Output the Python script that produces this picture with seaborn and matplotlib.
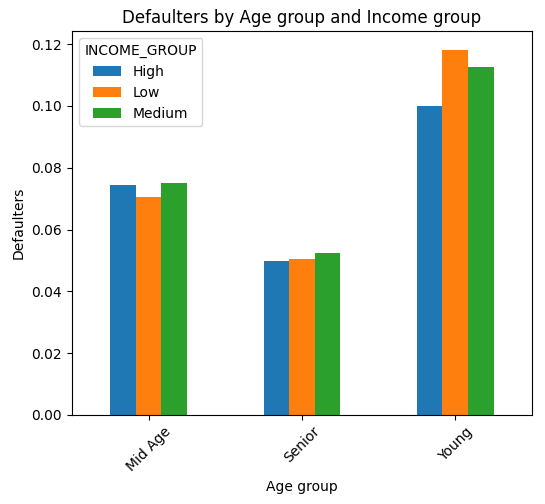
import matplotlib
matplotlib.use("Agg")
import matplotlib.pyplot as plt
import seaborn as sns
import pandas as pd

age_groups = ["Mid Age", "Senior", "Young"]
income_groups = ["High", "Low", "Medium"]
high = [0.0743, 0.0497, 0.1000]
low = [0.0704, 0.0503, 0.1180]
medium = [0.0749, 0.0523, 0.1127]

rows = []
for i, a in enumerate(age_groups):
    for g, vals in zip(income_groups, [high, low, medium]):
        rows.append({"Age group": a, "INCOME_GROUP": g, "Defaulters": vals[i]})
df = pd.DataFrame(rows)

fig, ax = plt.subplots(figsize=(5.45, 5.04), dpi=100)
sns.barplot(data=df, x="Age group", y="Defaulters", hue="INCOME_GROUP",
            palette=["#1f77b4", "#ff7f0e", "#2ca02c"], width=0.5,
            saturation=1, ax=ax, errorbar=None)
ax.set_title("Defaulters by Age group and Income group")
ax.tick_params(axis="x", rotation=45)
ax.set_ylim(0, 0.1242)
ax.legend(title="INCOME_GROUP", loc="upper left")
fig.subplots_adjust(left=0.132, right=0.976, top=0.938, bottom=0.177)
fig.savefig("out.png", dpi=100)
